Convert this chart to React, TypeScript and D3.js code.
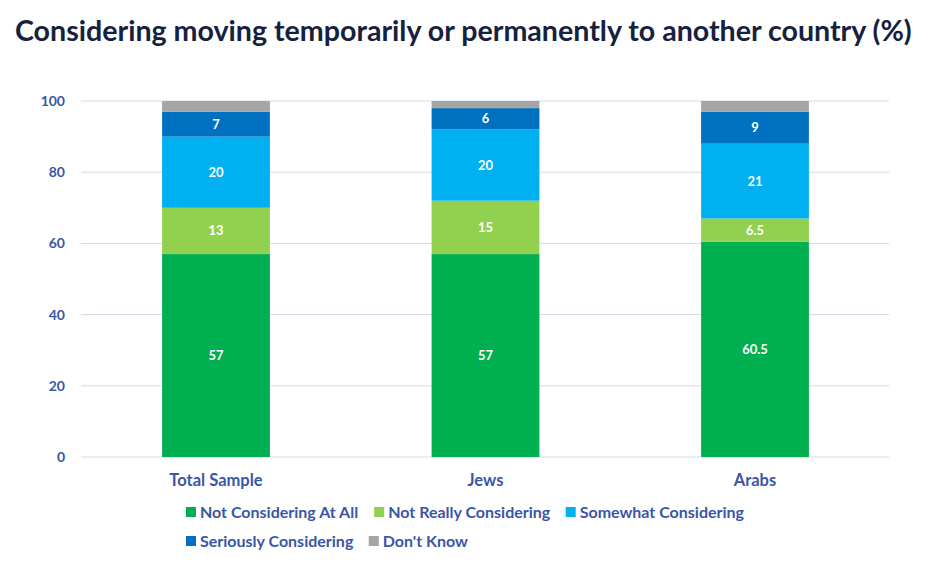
import React from "react";
import * as d3 from "d3";

const categories = ["Total Sample", "Jews", "Arabs"];
const seriesNames = [
  "Not Considering At All",
  "Not Really Considering",
  "Somewhat Considering",
  "Seriously Considering",
  "Don't Know",
];
const notConsidering = [57, 57, 60.5];
const notReally = [13, 15, 6.5];
const somewhat = [20, 20, 21];
const seriously = [7, 6, 9];
const dontKnow = [3, 2, 3];
const yTicks = [0, 20, 40, 60, 80, 100];
const colors = ["#00B050", "#92D050", "#00B0F0", "#0070C0", "#A5A5A5"];
const showLabel = [true, true, true, true, false];

const W = 928;
const H = 569;
const FONT = "Lato, 'Noto Sans', sans-serif";
const AXIS_COLOR = "#3A56A6";

function measure(text: string, font: string): number {
  if (typeof document === "undefined") return text.length * 8;
  const c = document.createElement("canvas");
  const ctx = c.getContext("2d");
  if (!ctx) return text.length * 8;
  ctx.font = font;
  return ctx.measureText(text).width;
}

export default function App() {
  const series = [notConsidering, notReally, somewhat, seriously, dontKnow];
  const rows = categories.map((c, i) => {
    const r: any = { cat: c };
    seriesNames.forEach((s, j) => (r[s] = series[j][i]));
    return r;
  });
  const stacked = d3.stack<any>().keys(seriesNames)(rows);

  const x = d3
    .scaleBand<string>()
    .domain(categories)
    .range([81.25, 889.75])
    .paddingInner(0.6)
    .paddingOuter(0.3);
  const y = d3.scaleLinear().domain([0, 100]).range([457, 101]);

  // legend layout
  const legSize = 16;
  const legFont = `bold ${legSize}px ${FONT}`;
  const legendItems: { name: string; color: string; x: number; y: number }[] = [];
  const maxX = 780;
  let lx = 186;
  let ly = 512;
  seriesNames.forEach((name, i) => {
    const w = 14 + measure(name, legFont);
    if (lx + w > maxX) {
      lx = 186;
      ly += 29;
    }
    legendItems.push({ name, color: colors[i], x: lx, y: ly });
    lx += w + 15;
  });

  return (
    <svg width={W} height={H} style={{ display: "block", position: "absolute", left: 0, top: 0 }} fontFamily={FONT}>
      <rect width={W} height={H} fill="#fff" />
      <text x={15} y={41} fontSize={28.6} fontWeight="bold" fill="#16213F">
        Considering moving temporarily or permanently to another country (%)
      </text>
      {yTicks.map((t) => (
        <g key={t}>
          <line x1={81} x2={889} y1={y(t)} y2={y(t)} stroke="#D3DBEA" strokeWidth={1} />
          <text x={65} y={y(t)} dy="0.35em" textAnchor="end" fontSize={14} fontWeight="bold" fill={AXIS_COLOR}>
            {t}
          </text>
        </g>
      ))}
      {stacked.map((s, j) => (
        <g key={s.key} fill={colors[j]}>
          {s.map((d, i) => (
            <rect
              key={i}
              x={x(categories[i])}
              width={x.bandwidth()}
              y={y(d[1])}
              height={y(d[0]) - y(d[1])}
            />
          ))}
        </g>
      ))}
      {stacked.map((s, j) =>
        showLabel[j]
          ? s.map((d, i) => (
              <text
                key={s.key + i}
                x={(x(categories[i]) as number) + x.bandwidth() / 2}
                y={(y(d[0]) + y(d[1])) / 2}
                dy="0.35em"
                textAnchor="middle"
                fontSize={13}
                fontWeight="bold"
                fill="#fff"
              >
                {series[j][i]}
              </text>
            ))
          : null
      )}
      {categories.map((c) => (
        <text
          key={c}
          x={(x(c) as number) + x.bandwidth() / 2}
          y={480}
          dy="0.35em"
          textAnchor="middle"
          fontSize={16.5}
          fontWeight="bold"
          fill={AXIS_COLOR}
        >
          {c}
        </text>
      ))}
      {legendItems.map((it) => (
        <g key={it.name}>
          <rect x={it.x} y={it.y - 5} width={10} height={10} fill={it.color} />
          <text x={it.x + 14} y={it.y} dy="0.35em" fontSize={legSize} fontWeight="bold" fill={AXIS_COLOR}>
            {it.name}
          </text>
        </g>
      ))}
    </svg>
  );
}
